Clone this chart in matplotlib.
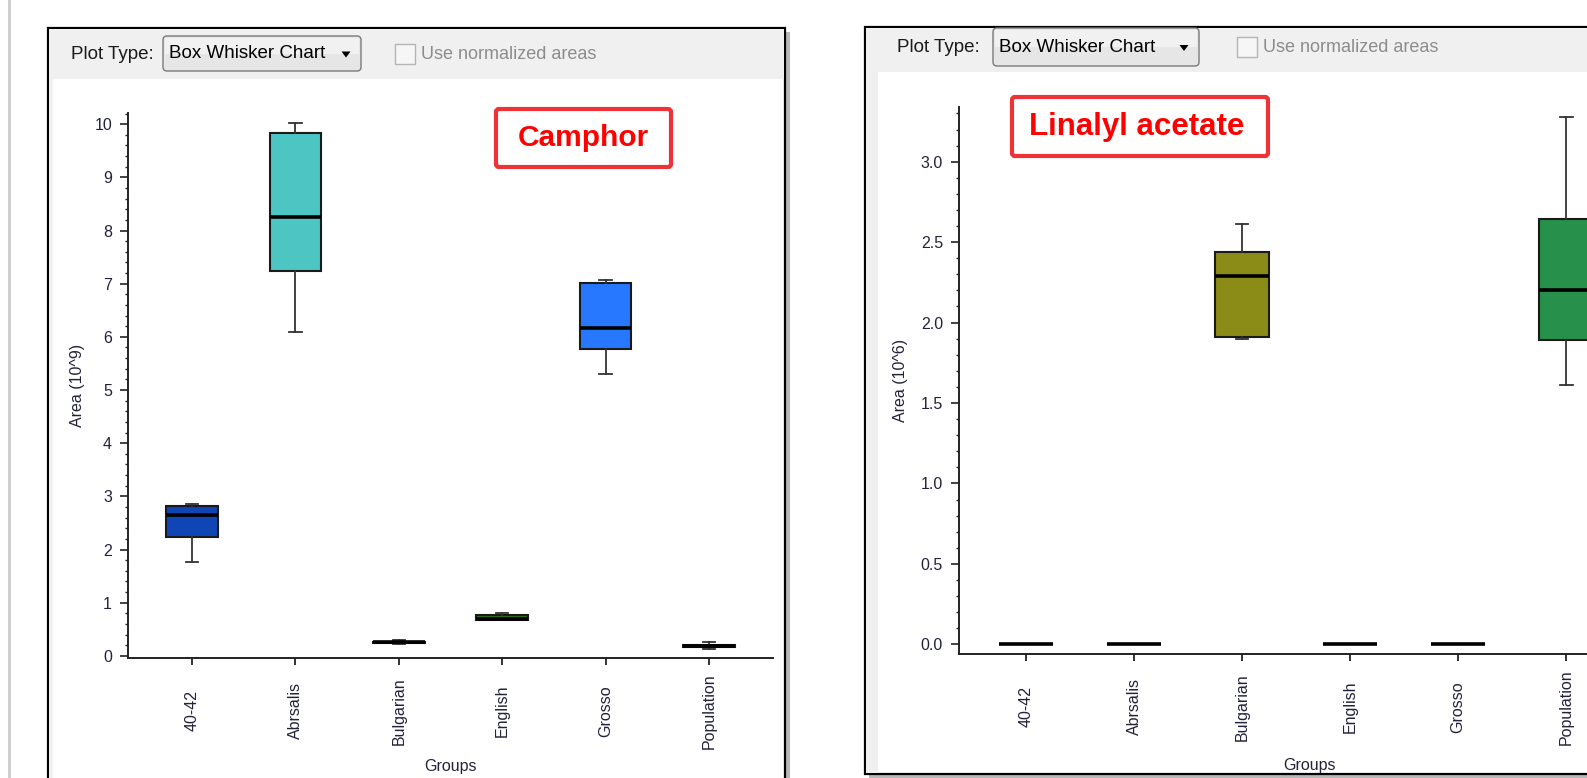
import matplotlib
matplotlib.use("Agg")
import matplotlib.pyplot as plt
from matplotlib.patches import Rectangle, FancyBboxPatch, Polygon
from matplotlib.ticker import MultipleLocator, FormatStrFormatter

# groups shared by both charts
groups = ["40-42", "Abrsalis", "Bulgarian", "English", "Grosso", "Population"]

# Camphor peak area (10^9)
camphor_whislo = [1.76, 6.10, 0.22, 0.67, 5.30, 0.13]
camphor_q1 = [2.24, 7.24, 0.25, 0.68, 5.77, 0.17]
camphor_med = [2.65, 8.25, 0.26, 0.69, 6.17, 0.185]
camphor_q3 = [2.81, 9.84, 0.27, 0.765, 7.02, 0.20]
camphor_whishi = [2.86, 10.02, 0.30, 0.81, 7.07, 0.27]
camphor_colors = ["#0f45b4", "#4cc5c3", "#8b8b17", "#336b14", "#2878ff", "#27904a"]

# Linalyl acetate peak area (10^6)
linalyl_whislo = [0.0, 0.0, 1.895, 0.0, 0.0, 1.61]
linalyl_q1 = [0.0, 0.0, 1.91, 0.0, 0.0, 1.89]
linalyl_med = [0.0, 0.0, 2.29, 0.0, 0.0, 2.205]
linalyl_q3 = [0.0, 0.0, 2.44, 0.0, 0.0, 2.645]
linalyl_whishi = [0.0, 0.0, 2.61, 0.0, 0.0, 3.28]
linalyl_colors = ["#0f45b4", "#4cc5c3", "#8b8b17", "#336b14", "#2878ff", "#27904a"]

W, H = 1587, 778
UI_FONT = ["Liberation Sans", "DejaVu Sans"]
CHART_FONT = ["Liberation Sans", "DejaVu Sans"]
TICK_COLOR = "#22223a"

fig = plt.figure(figsize=(W / 100, H / 100), dpi=100)
fig.patch.set_facecolor("white")

# pixel-space layer for the window chrome
ui = fig.add_axes([0, 0, 1, 1], zorder=0)
ui.set_xlim(0, W)
ui.set_ylim(H, 0)
ui.axis("off")


def px_rect(left, right, top, bottom):
    return [left / W, 1 - bottom / H, (right - left) / W, (bottom - top) / H]


def draw_panel(x0, x1, y0, y1, bar_bottom, strip_right, drop, check, label_x, mid_y):
    # drop shadow
    ui.add_patch(Rectangle((x1, y0 + 4), 5, y1 - y0, color="#b8b8b8", lw=0))
    ui.add_patch(Rectangle((x0 + 4, y1), x1 - x0, 4, color="#b8b8b8", lw=0))
    # body
    ui.add_patch(Rectangle((x0, y0), x1 - x0, y1 - y0, facecolor="white",
                           edgecolor="black", lw=1.6))
    ui.add_patch(Rectangle((x0 + 1, y0 + 1), x1 - x0 - 2, bar_bottom - y0 - 1,
                           color="#f0f0f0", lw=0))
    ui.add_patch(Rectangle((x0 + 1, bar_bottom), strip_right - x0 - 1, y1 - bar_bottom - 1,
                           color="#f0f0f0", lw=0))
    ui.text(label_x, mid_y, "Plot Type:", family=UI_FONT, fontsize=13.5,
            va="center", ha="left", color="#1a1a1a")
    # drop-down
    dl, dr, dt, db = drop
    ui.add_patch(FancyBboxPatch((dl, dt), dr - dl, db - dt,
                                boxstyle="round,pad=0,rounding_size=4",
                                facecolor="#e6e6e6", edgecolor="#7a7a7a", lw=1.0))
    ui.add_patch(Rectangle((dl + 2, dt + 2), dr - dl - 4, (db - dt) / 2 - 2,
                           color="#f1f1f1", lw=0))
    ui.text(dl + 6, (dt + db) / 2, "Box Whisker Chart", family=UI_FONT, fontsize=13.5,
            va="center", ha="left", color="black")
    ax_ = dr - 15
    ay = (dt + db) / 2 + 1
    ui.add_patch(Polygon([(ax_ - 4.5, ay - 3), (ax_ + 4.5, ay - 3), (ax_, ay + 3)],
                         closed=True, color="black", lw=0))
    # checkbox
    cl, ct = check
    ui.add_patch(Rectangle((cl, ct), 20, 20, facecolor="#f6f6f6",
                           edgecolor="#b4b4b4", lw=1.0))
    ui.text(cl + 26, ct + 10, "Use normalized areas", family=UI_FONT, fontsize=13,
            va="center", ha="left", color="#8c8c8c")


ui.add_patch(Rectangle((8, 0), 2.5, H, color="#cfcfcf", lw=0))
draw_panel(48, 785, 28, 800, 79, 53, (163, 361, 36, 71), (395, 44), 71, 54)
draw_panel(865, 1640, 27, 774, 72, 878, (993, 1199, 28, 66), (1237, 37), 897, 47)


def label_box(left, right, top, bottom, text, tx, ty, size):
    ui.add_patch(FancyBboxPatch((left, top), right - left, bottom - top,
                                boxstyle="round,pad=0,rounding_size=3",
                                facecolor="white", edgecolor="#ee3338", lw=3.0))
    ui.text(tx, ty, text, family=CHART_FONT, fontsize=size, fontweight="bold",
            color="#ff0000", ha="center", va="center")


def box_chart(rect, whislo, q1, med, q3, whishi, colors, ylim, major, minor,
              ylabel, ylabel_x, xlabel_x, xlabel_y):
    ax = fig.add_axes(rect, zorder=1)
    ax.patch.set_alpha(0)
    stats = [dict(whislo=a, q1=b, med=c, q3=d, whishi=e)
             for a, b, c, d, e in zip(whislo, q1, med, q3, whishi)]
    parts = ax.bxp(stats, positions=range(len(groups)), widths=0.5,
                   patch_artist=True, showfliers=False, capwidths=0.12,
                   boxprops=dict(edgecolor="#1a1a1a", linewidth=1.5),
                   medianprops=dict(color="black", linewidth=2.6),
                   whiskerprops=dict(color="#333333", linewidth=1.3),
                   capprops=dict(color="#333333", linewidth=1.3))
    for patch, c in zip(parts["boxes"], colors):
        patch.set_facecolor(c)
    ax.set_xlim(-0.62, 5.62)
    ax.set_ylim(*ylim)
    ax.yaxis.set_major_locator(MultipleLocator(major))
    ax.yaxis.set_minor_locator(MultipleLocator(minor))
    for side in ("top", "right"):
        ax.spines[side].set_visible(False)
    for side in ("left", "bottom"):
        ax.spines[side].set_linewidth(1.4)
        ax.spines[side].set_color("#222222")
    ax.set_xticks(range(len(groups)))
    ax.set_xticklabels(groups, rotation=90, va="center", family=CHART_FONT,
                       fontsize=11.5, color=TICK_COLOR)
    ax.tick_params(axis="x", length=5, width=1.3, pad=33, color="#222222")
    ax.tick_params(axis="y", which="major", length=5.5, width=1.2, pad=6,
                   labelsize=11.5, labelcolor=TICK_COLOR, color="#222222")
    ax.tick_params(axis="y", which="minor", length=2.5, width=1.0, color="#222222")
    for lab in ax.get_yticklabels():
        lab.set_family(CHART_FONT)
    ax.set_ylabel(ylabel, family=CHART_FONT, fontsize=11.5, color=TICK_COLOR)
    ax.yaxis.set_label_coords(ylabel_x, 0.5)
    ax.set_xlabel("Groups", family=CHART_FONT, fontsize=11.5, color=TICK_COLOR)
    ax.xaxis.set_label_coords(xlabel_x, xlabel_y)
    return ax


left_ax = box_chart(px_rect(128, 773, 113, 658), camphor_whislo, camphor_q1,
                    camphor_med, camphor_q3, camphor_whishi, camphor_colors,
                    (-0.04, 10.21), 1, 0.2, "Area (10^9)", -0.066, 0.5, -0.185)
right_ax = box_chart(px_rect(959, 1633, 107, 654), linalyl_whislo, linalyl_q1,
                     linalyl_med, linalyl_q3, linalyl_whishi, linalyl_colors,
                     (-0.06, 3.34), 0.5, 0.1, "Area (10^6)", -0.076, 0.52, -0.19)
right_ax.yaxis.set_major_formatter(FormatStrFormatter("%.1f"))

label_box(496, 671, 109, 167, "Camphor", 583, 138, 21.5)
label_box(1012, 1268, 97, 156, "Linalyl acetate", 1137, 127, 22.5)

fig.savefig("out.png", dpi=100)
